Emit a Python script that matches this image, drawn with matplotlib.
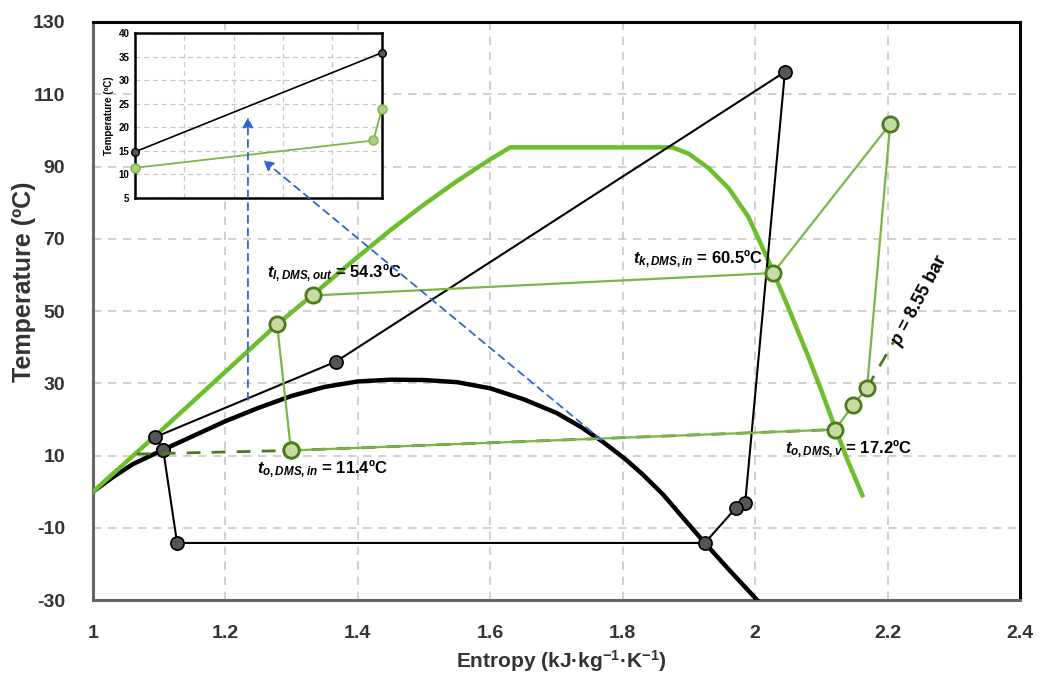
import matplotlib
matplotlib.use("Agg")
import matplotlib.pyplot as plt

plt.rcParams["font.family"] = ["Liberation Sans", "DejaVu Sans"]
plt.rcParams["font.weight"] = "bold"
plt.rcParams["axes.unicode_minus"] = False
plt.rcParams["mathtext.fontset"] = "custom"
plt.rcParams["mathtext.rm"] = "Liberation Sans:bold"
plt.rcParams["mathtext.it"] = "Liberation Sans:italic:bold"
plt.rcParams["mathtext.bf"] = "Liberation Sans:bold"

# saturation dome of the working fluid (thick black)
dome_s = [1.0, 1.03, 1.06, 1.106, 1.15, 1.2, 1.25, 1.3, 1.35, 1.4, 1.45, 1.5, 1.55, 1.6, 1.65,
          1.7, 1.736, 1.77, 1.804, 1.83, 1.861, 1.89, 1.924, 1.96, 2.003]
dome_t = [0.0, 4.0, 7.6, 11.6, 15.3, 19.5, 23.2, 26.5, 29.0, 30.5, 31.0, 30.9, 30.3, 28.6, 25.6,
          21.8, 18.0, 13.8, 9.0, 4.8, -0.8, -7.0, -14.2, -21.5, -30.0]

# DMS curve (thick green)
dms_s = [1.0, 1.092, 1.2, 1.278, 1.332, 1.4, 1.45, 1.5, 1.55, 1.6, 1.63, 1.875, 1.9, 1.93, 1.96,
         1.99, 2.01, 2.027, 2.05, 2.08, 2.1, 2.121, 2.14, 2.162]
dms_t = [0.0, 15.1, 33.2, 46.3, 54.5, 65.0, 72.5, 79.5, 86.0, 92.0, 95.3, 95.3, 93.5, 89.5, 84.0,
         76.0, 68.0, 61.0, 51.0, 37.5, 28.0, 17.6, 8.5, -1.0]

# heat pump cycle (thin black)
hp_s = [1.106, 1.094, 1.367, 2.045, 1.985, 1.971, 1.924, 1.127, 1.106]
hp_t = [11.6, 15.1, 36.0, 116.2, -3.1, -4.5, -14.2, -14.2, 11.6]

# DMS side cycle (thin green)
dc_s = [1.299, 1.278, 1.332, 2.027, 2.204, 2.169, 2.148, 2.121, 1.299]
dc_t = [11.4, 46.3, 54.3, 60.5, 101.8, 28.7, 24.0, 17.2, 11.4]

# isobar p = 8.55 bar (dashed)
ext_s = [1.066, 1.299, 2.121]
ext_t = [10.4, 11.4, 17.2]
iso_s = [2.169, 2.209]
iso_t = [28.7, 41.4]

# inset: evaporator temperature profile
in_x = [0.0, 1.0]
in_black = [14.8, 35.8]
in_gx = [0.0, 0.967, 1.0]
in_green = [11.4, 17.2, 23.8]

xticks = [1.0, 1.2, 1.4, 1.6, 1.8, 2.0, 2.2, 2.4]
xticklabels = ["1", "1.2", "1.4", "1.6", "1.8", "2", "2.2", "2.4"]
yticks = list(range(-30, 131, 20))

labels = [
    (r"$t_{l,DMS,out}$ = 54.3ºC", 1.263, 60.5, "left"),
    (r"$t_{k,DMS,in}$ = 60.5ºC", 2.012, 64.3, "right"),
    (r"$t_{o,DMS,in}$ = 11.4ºC", 1.248, 6.3, "left"),
    (r"$t_{o,DMS,v}$ = 17.2ºC", 2.045, 11.8, "left"),
]

GREEN = "#6cbf2a"
GREEN_THIN = "#7ab648"
GREEN_DARK = "#4c7a1c"
GREEN_FACE = "#c6dca2"
GRID = "#c8c8c8"
BLUE = "#2f66d0"

fig = plt.figure(figsize=(10.39, 6.79), dpi=100)
ax = fig.add_axes([0.0895, 0.1163, 0.8922, 0.8513])

ax.set_xlim(1.0, 2.4)
ax.set_ylim(-30, 130)
ax.set_xticks(xticks)
ax.set_xticklabels(xticklabels)
ax.set_yticks(yticks)
ax.tick_params(axis="y", labelsize=14, length=0, pad=20)
ax.tick_params(axis="x", labelsize=14, length=0, pad=18)
for lab in ax.get_xticklabels() + ax.get_yticklabels():
    lab.set_fontweight("bold")
    lab.set_color("#333333")
ax.grid(True, color=GRID, linestyle=(0, (5, 4)), linewidth=1.2)
ax.set_axisbelow(True)
for side in ["top", "right"]:
    ax.spines[side].set_linewidth(2.2)
    ax.spines[side].set_color("black")
for side in ["left", "bottom"]:
    ax.spines[side].set_linewidth(2.2)
    ax.spines[side].set_color("#666666")

ax.set_xlabel("Entropy (kJ·kg$^{-1}$·K$^{-1}$)", fontsize=15, fontweight="bold", color="#333333")
ax.set_ylabel("Temperature (ºC)", fontsize=18, fontweight="bold", color="#333333")
ax.xaxis.set_label_coords(0.505, -0.083)
ax.yaxis.set_label_coords(-0.062, 0.55)

ax.plot(dome_s, dome_t, color="black", lw=3.2, zorder=3)
ax.plot(dms_s, dms_t, color=GREEN, lw=3.2, zorder=3)

ax.plot(hp_s, hp_t, color="black", lw=1.5, marker="o", ms=9.5, mfc="#555555", mec="black", mew=1.2, zorder=4)
ax.plot(ext_s, ext_t, color=GREEN_DARK, lw=2, ls=(0, (5, 4)), zorder=4)
ax.plot(iso_s, iso_t, color=GREEN_DARK, lw=2, ls=(0, (5, 4)), zorder=4)
ax.plot(dc_s, dc_t, color=GREEN_THIN, lw=1.6, marker="o", ms=11, mfc=GREEN_FACE, mec=GREEN_DARK, mew=2, zorder=5)

for text, sx, ty, ha in labels:
    ax.text(sx, ty, text, fontsize=12, fontweight="bold", color="black", ha=ha, va="center", zorder=6)

ax.text(2.249, 53, r"$p$ = 8.55 bar", fontsize=13, fontweight="bold", rotation=62,
        ha="center", va="center", zorder=6)

# inset
axi = fig.add_axes([0.13, 0.7084, 0.2373, 0.243])
axi.set_facecolor("white")
axi.set_xlim(0, 1)
axi.set_ylim(5, 40)
axi.set_xticks([0.2, 0.4, 0.6, 0.8])
axi.set_xticklabels([])
axi.set_yticks(range(5, 41, 5))
axi.tick_params(labelsize=7, length=0, pad=4)
axi.grid(True, color=GRID, linestyle=(0, (4, 3)), linewidth=0.9)
axi.set_axisbelow(True)
for sp in axi.spines.values():
    sp.set_linewidth(1.8)
    sp.set_color("black")
axi.set_ylabel("Temperature (ºC)", fontsize=7, fontweight="bold", labelpad=3)
axi.plot(in_x, in_black, color="black", lw=1.2, marker="o", ms=5.5, mfc="#555555", mec="black", clip_on=False, zorder=4)
axi.plot(in_gx, in_green, color=GREEN_THIN, lw=1.3, marker="o", ms=6.5, mfc="#a8d27c", mec=GREEN_THIN, clip_on=False, zorder=4)

# blue arrows from main diagram into inset
arrow = dict(arrowstyle="-|>", color=BLUE, lw=1.3, linestyle=(0, (4, 3)), mutation_scale=15, shrinkA=0, shrinkB=0)
axi.annotate("", xy=(1.234, 103.7), xycoords=ax.transData, xytext=(1.234, 25.4), textcoords=ax.transData,
             arrowprops=arrow, annotation_clip=False, zorder=10)
axi.annotate("", xy=(1.257, 91.8), xycoords=ax.transData, xytext=(1.768, 14.3), textcoords=ax.transData,
             arrowprops=arrow, annotation_clip=False, zorder=10)

fig.savefig("out.png", dpi=100)
